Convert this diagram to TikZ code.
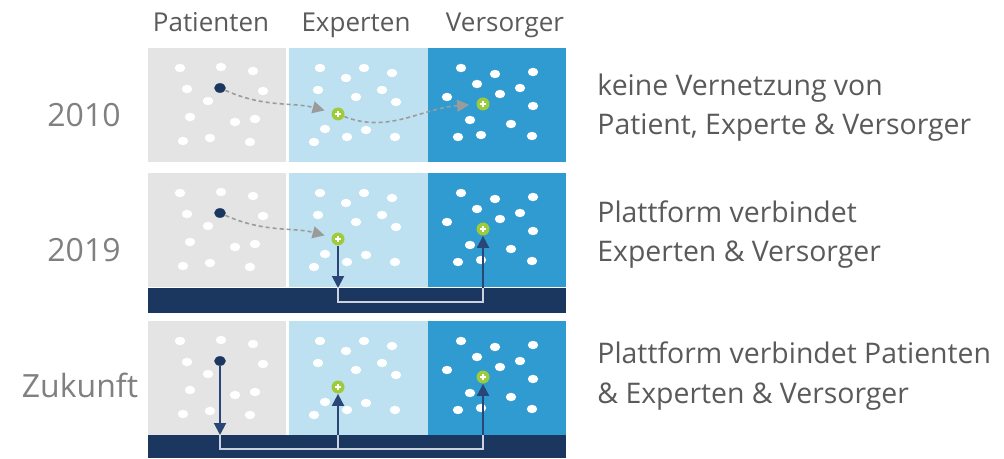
\documentclass[tikz,border=0pt]{standalone}
\usepackage{fontspec}
\setmainfont{Open Sans}
\usepackage{tikz}
\usetikzlibrary{arrows.meta,shapes.geometric}

\definecolor{grayPanel}{HTML}{E4E4E4}
\definecolor{lightPanel}{HTML}{BEE1F1}
\definecolor{bluePanel}{HTML}{2F9BD1}
\definecolor{navy}{HTML}{1B365F}
\definecolor{arrowNavy}{HTML}{2A4676}
\definecolor{hubGreen}{HTML}{9DCB3A}
\definecolor{flowGray}{HTML}{9B9B9B}
\definecolor{busLine}{HTML}{C9D2DE}
\definecolor{labelGray}{HTML}{5A5A5A}
\definecolor{yearGray}{HTML}{808080}

\begin{document}
\begin{tikzpicture}[x=0.5pt,y=-0.5pt,>={Triangle[length=6pt,width=6pt]},
  panel/.style={anchor=north west,minimum width=69pt,minimum height=57pt,inner sep=0pt,outer sep=0pt},
  bus/.style={fill=navy,anchor=north west,minimum width=209pt,inner sep=0pt,outer sep=0pt},
  spot/.style={ellipse,fill=white,minimum width=5.2pt,minimum height=4.2pt,inner sep=0pt},
  patient/.style={ellipse,fill=navy,minimum width=5.8pt,minimum height=4.8pt,inner sep=0pt},
  hub/.style={circle,fill=hubGreen,minimum size=6.5pt,inner sep=0pt,
    path picture={\draw[white,line width=0.8pt]
      ([xshift=-1.6pt]path picture bounding box.center) -- ([xshift=1.6pt]path picture bounding box.center)
      ([yshift=-1.6pt]path picture bounding box.center) -- ([yshift=1.6pt]path picture bounding box.center);}},
  flow/.style={flowGray,line width=0.8pt,dash pattern=on 2pt off 1.5pt,->,shorten >=3.5pt},
  link/.style={arrowNavy,line width=1pt,->},
  wire/.style={busLine,line width=1pt},
  head/.style={anchor=base,text=labelGray,font=\fontsize{13}{15}\selectfont},
  year/.style={anchor=base,text=yearGray,font=\fontsize{16}{19}\selectfont},
  note/.style={anchor=base west,align=left,inner sep=0pt,text=labelGray,font=\fontsize{14.2}{19.75}\selectfont}]
  \useasboundingbox (0,0) rectangle (1004,459);

  \node[head] (hpat) at (211,32) {Patienten};
  \node[head] (hexp) at (356,32) {Experten};
  \node[head] (hver) at (505,32) {Versorger};

  \foreach \r/\y in {a/48,b/173,c/321}{
    \node[panel,fill=grayPanel] (pat\r) at (148,\y) {};
    \node[panel,fill=lightPanel,minimum width=69.5pt] (exp\r) at (289,\y) {};
    \node[panel,fill=bluePanel] (ver\r) at (428,\y) {};
    \begin{scope}[shift={(148,\y)}]
      \foreach \u/\v in {32/20,73/19,105/23,39/41,115/43,60/53,42/69,87/74,107/71,35/93,62/90,102/94}
        \node[spot] at (\u,\v) {};
      \node[patient] (pt\r) at (72,40) {};
    \end{scope}
    \begin{scope}[shift={(289,\y)}]
      \foreach \u/\v in {31/20,75/20,103/25,57/30,29/42,93/42,67/49,107/54,36/81,58/89,77/82,25/94,106/89}
        \node[spot] at (\u,\v) {};
      \node[hub] (hub\r2) at (49,66) {};
    \end{scope}
    \begin{scope}[shift={(428,\y)}]
      \foreach \u/\v in {33/20,67/26,105/24,49/36,92/40,72/46,19/49,105/58,42/72,83/76,30/89,53/87,104/88}
        \node[spot] at (\u,\v) {};
      \node[hub] (hub\r3) at (55,56) {};
    \end{scope}
  }
  \node[bus,minimum height=12.5pt] (busb) at (148,288) {};
  \node[bus,minimum height=11.5pt] (busc) at (148,435) {};

  \node[year] (ya) at (84,127) {2010};
  \node[year] (yb) at (84,262) {2019};
  \node[year] (yc) at (80,397) {Zukunft};

  \node[note] (na) at (597,135) {keine Vernetzung von\\Patient, Experte \& Versorger};
  \node[note] (nb) at (597,262) {Plattform verbindet\\Experten \& Versorger};
  \node[note] (nc) at (597,403) {Plattform verbindet Patienten\\\& Experten \& Versorger};

  % 2010
  \draw[flow] (pta) .. controls +(45,20) and +(-45,-12) .. (huba2);
  \draw[flow] (huba2) .. controls +(50,20) and +(-60,4) .. (huba3);
  % 2019
  \draw[flow] (ptb) .. controls +(45,20) and +(-45,-12) .. (hubb2);
  \draw[link] (hubb2) -- (hubb2 |- busb.north);
  \draw[wire] (hubb2 |- busb.north) -- ++(0,14) -| (hubb3 |- busb.north);
  \draw[link] (hubb3 |- busb.north) -- (hubb3);
  % Zukunft
  \draw[link] (ptc) -- (ptc |- busc.north);
  \draw[wire] (ptc |- busc.north) -- ++(0,14) -| (hubc3 |- busc.north);
  \draw[wire] (hubc2 |- busc.north) -- ++(0,14);
  \draw[link] (hubc2 |- busc.north) -- (hubc2);
  \draw[link] (hubc3 |- busc.north) -- (hubc3);
\end{tikzpicture}
\end{document}
